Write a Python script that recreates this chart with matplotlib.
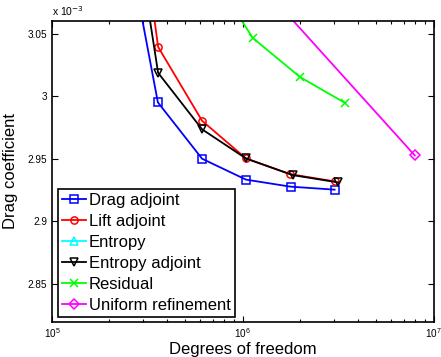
import matplotlib
matplotlib.use("Agg")
import matplotlib.pyplot as plt
from matplotlib.ticker import FixedLocator, LogLocator, NullFormatter, FuncFormatter

plt.rcParams['font.family'] = ['Liberation Sans', 'DejaVu Sans']

# Drag coefficient (in units of 1e-3) versus degrees of freedom
drag_dof = [2.3e5, 3.59e5, 6.12e5, 1.04e6, 1.78e6, 3.03e6]
drag_cd = [3.151, 2.995, 2.950, 2.9333, 2.9277, 2.9253]

lift_dof = [2.3e5, 3.6e5, 6.12e5, 1.04e6, 1.77e6, 3.03e6]
lift_cd = [3.260, 3.0393, 2.9803, 2.9502, 2.9377, 2.9319]

entropy_dof = [2.3e5, 4.0e5, 7.0e5]
entropy_cd = [3.40, 3.25, 3.15]

entadj_dof = [2.3e5, 3.6e5, 6.12e5, 1.04e6, 1.83e6, 3.16e6]
entadj_cd = [3.210, 3.0186, 2.9735, 2.9502, 2.9369, 2.9311]

resid_dof = [5.5e5, 1.13e6, 1.99e6, 3.45e6]
resid_cd = [3.120, 3.0464, 3.0154, 2.9944]

unif_dof = [1.0e6, 7.98e6]
unif_cd = [3.1048, 2.9526]

series = [
    ("Drag adjoint", drag_dof, drag_cd, "#0000ff", "s"),
    ("Lift adjoint", lift_dof, lift_cd, "#ff0000", "o"),
    ("Entropy", entropy_dof, entropy_cd, "#00ffff", "^"),
    ("Entropy adjoint", entadj_dof, entadj_cd, "#000000", "v"),
    ("Residual", resid_dof, resid_cd, "#00ff00", "x"),
    ("Uniform refinement", unif_dof, unif_cd, "#ff00ff", "D"),
]

fig = plt.figure(figsize=(4.41, 3.57), dpi=100)
ax = fig.add_axes([52 / 441, 1 - 321.5 / 357, (433.5 - 52) / 441, (321.5 - 21) / 357])

for label, x, y, color, marker in series:
    ms = 5.2 if marker != "D" else 4.8
    ax.plot(x, y, color=color, marker=marker, markerfacecolor="none",
            markeredgecolor=color, markersize=ms, linewidth=1.3,
            markeredgewidth=1.1, label=label)

ax.set_xscale("log")
ax.set_xlim(1e5, 1e7)
ax.set_ylim(2.82, 3.06)

ax.yaxis.set_major_locator(FixedLocator([2.85, 2.9, 2.95, 3.0, 3.05]))
ax.yaxis.set_major_formatter(FuncFormatter(lambda v, p: ("%.2f" % v).rstrip("0").rstrip(".")))
ax.xaxis.set_major_locator(LogLocator(base=10, numticks=5))
ax.xaxis.set_minor_locator(LogLocator(base=10, subs=range(2, 10), numticks=20))
ax.xaxis.set_minor_formatter(NullFormatter())

ax.tick_params(which="both", direction="in", top=True, right=True, labelsize=7.2, width=0.8)
ax.tick_params(which="major", length=4)
ax.tick_params(which="minor", length=2)
for s in ax.spines.values():
    s.set_linewidth(1.2)

ax.text(0.0, 1.01, r"x 10$^{-3}$", transform=ax.transAxes, fontsize=7.5, va="bottom", ha="left")

ax.set_xlabel("Degrees of freedom", fontsize=12, labelpad=1)
ax.set_ylabel("Drag coefficient", fontsize=12, labelpad=7)

leg = ax.legend(loc="lower left", bbox_to_anchor=(0.005, 0.0), fontsize=12,
                frameon=True, fancybox=False, edgecolor="k", framealpha=1,
                handlelength=1.4, handletextpad=0.2, labelspacing=0.36,
                borderpad=0.25, borderaxespad=0.25)
leg.get_frame().set_linewidth(1.2)

fig.savefig("out.png", dpi=100)
